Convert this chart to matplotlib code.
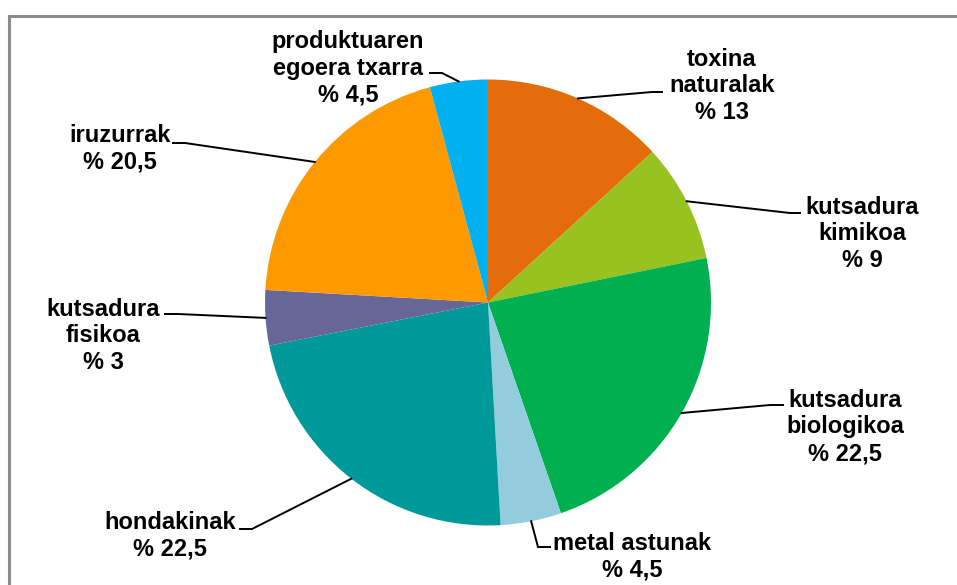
import matplotlib
matplotlib.use("Agg")
import matplotlib.pyplot as plt
import numpy as np

labels = ["toxina\nnaturalak", "kutsadura\nkimikoa", "kutsadura\nbiologikoa", "metal astunak",
          "hondakinak", "kutsadura\nfisikoa", "iruzurrak", "produktuaren\negoera txarra"]
# slice sizes as read from the drawn wedges
values = [13.2, 8.6, 22.9, 4.4, 22.8, 4.0, 19.9, 4.2]
# labels as printed on the chart
value_text = ["% 13", "% 9", "% 22,5", "% 4,5", "% 22,5", "% 3", "% 20,5", "% 4,5"]
colors = ["#E46C0A", "#98C21F", "#00B050", "#93CDDD", "#009999", "#666699", "#FF9900", "#00B0F0"]

# label layout in pixel coords: text centre, leader start, elbow x
text_pos = [(722, 86), (862, 234), (845, 427), (632, 557), (170, 536), (103, 336), (120, 149), (348, 68)]
lead_start = [(662, 92), (800, 213), (783, 405), (550, 547), (240, 529), (165, 314), (173, 143), (430, 73)]
elbow_x = [652, 790, 770, 538, 252, 178, 185, 442]

W, H = 957, 585
CX, CY, R = 488, 302.5, 223

fig = plt.figure(figsize=(W / 100, H / 100), dpi=100)
fig.patch.set_facecolor("white")
ax = fig.add_axes([(CX - R) / W, (H - CY - R) / H, 2 * R / W, 2 * R / H])
wedges, _ = ax.pie(values, colors=colors, startangle=90, counterclock=False, radius=1,
                   wedgeprops=dict(linewidth=0))
ax.set_xlim(-1, 1)
ax.set_ylim(-1, 1)
ax.set_aspect("equal")
ax.axis("off")


def to_data(px, py):
    return (px - CX) / R, (CY - py) / R


font = dict(family=["Liberation Sans", "DejaVu Sans"], fontsize=17, fontweight="bold", color="black")
for i, w in enumerate(wedges):
    mid = np.deg2rad((w.theta1 + w.theta2) / 2)
    ex, ey = np.cos(mid), np.sin(mid)
    sx, sy = to_data(*lead_start[i])
    bx, _ = to_data(elbow_x[i], 0)
    ax.plot([sx, bx, ex], [sy, sy, ey], color="black", lw=1.4, clip_on=False,
            solid_joinstyle="miter")
    tx, ty = to_data(*text_pos[i])
    ax.text(tx, ty, labels[i] + "\n" + value_text[i], ha="center", va="center",
            linespacing=1.2, **font)

# chart border (partly visible)
border = fig.add_axes([0, 0, 1, 1], facecolor="none")
border.set_xlim(0, W)
border.set_ylim(H, 0)
border.axis("off")
border.plot([8.5, 8.5, W], [H, 15.5, 15.5], color="#8C8C8C", lw=2.2, solid_joinstyle="miter")

fig.savefig("out.png", dpi=100)
